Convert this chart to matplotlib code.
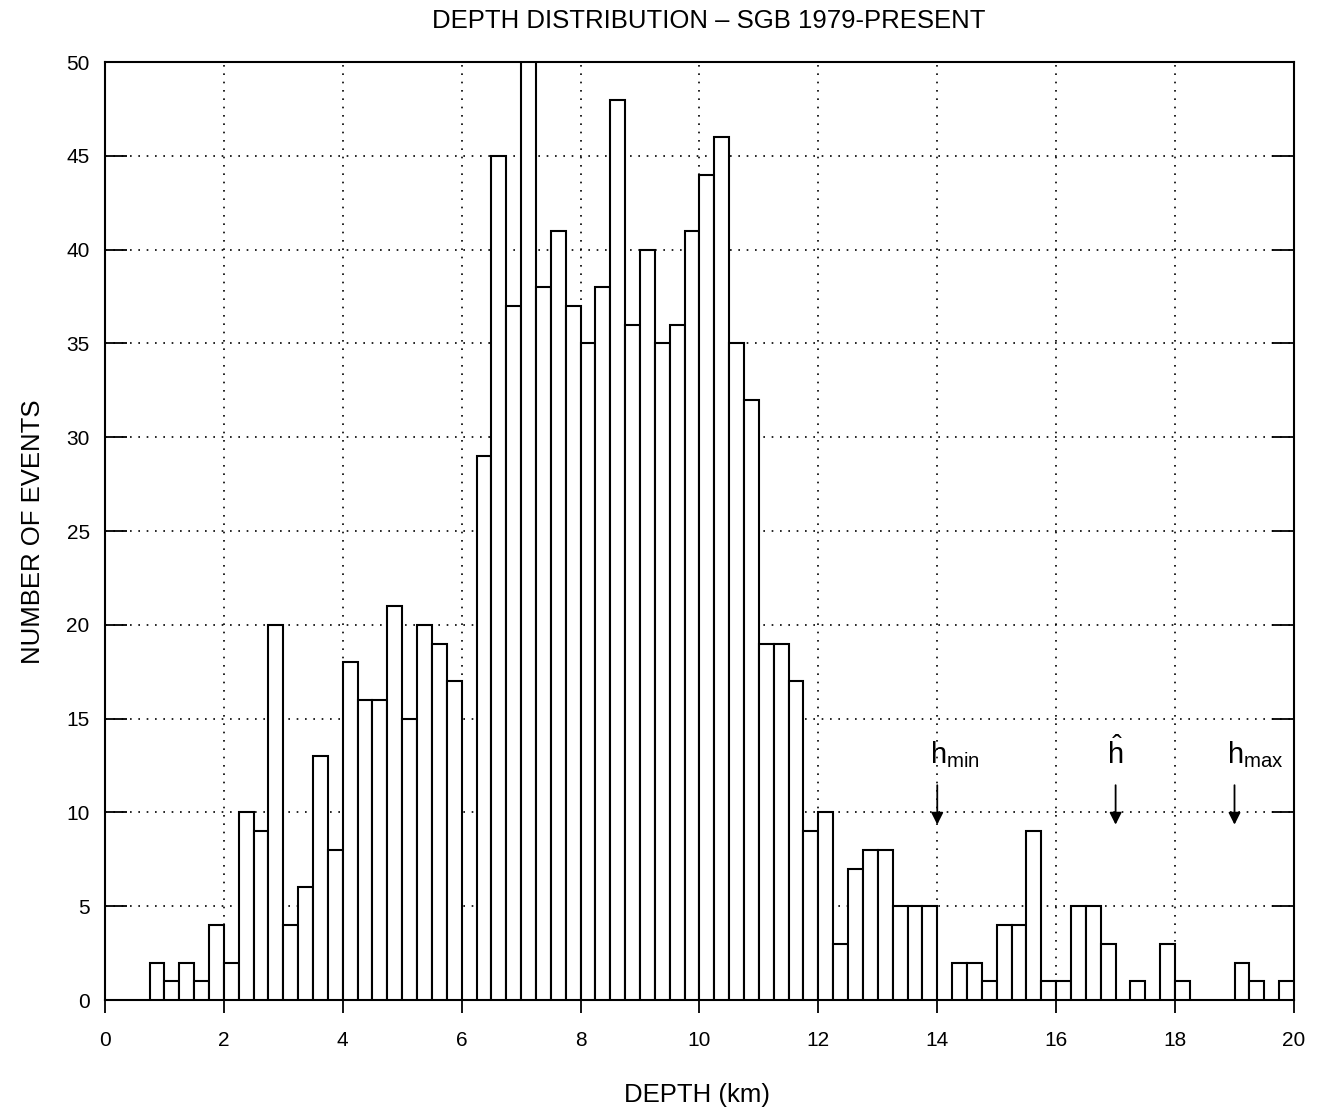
import numpy as np
import matplotlib
matplotlib.use('Agg')
import matplotlib.pyplot as plt

plt.rcParams['font.family'] = ['Liberation Sans', 'DejaVu Sans']

# Depth histogram, 0.25 km bins starting at 0.75 km
bin_start = 0.75
bin_width = 0.25
counts = [2, 1, 2, 1, 4, 2, 10, 9, 20, 4, 6, 13, 8, 18, 16, 16, 21, 15, 20, 19, 17,   # 0.75 - 6.0
          0, 29, 45, 37, 50, 38, 41, 37, 35, 38, 48, 36, 40, 35, 36, 41, 44, 46, 35,  # 6.0 - 10.75
          32, 19, 19, 17, 9, 10, 3, 7, 8, 8, 5, 5, 5,                                  # 10.75 - 14.0
          0, 2, 2, 1, 4, 4, 9, 1, 1, 5, 5, 3, 0, 1, 0, 3, 1,                           # 14.0 - 18.25
          0, 0, 0, 2, 1, 0, 1]                                                          # 18.25 - 20.0

# marker depths (km) and labels
marker_x = [14.0, 17.0, 19.0]
marker_labels = [r'$\mathregular{h_{min}}$', r'$\mathregular{\hat{h}}$', r'$\mathregular{h_{max}}$']
label_dx = [-0.12, 0.0, -0.12]
label_ha = ['left', 'center', 'left']

edges = bin_start + bin_width * np.arange(len(counts))
counts = np.array(counts)
keep = counts > 0

fig = plt.figure(figsize=(13.17, 11.12), dpi=100)
ax = fig.add_axes([0.0797, 0.1007, 0.9028, 0.8435])

ax.bar(edges[keep], counts[keep], width=bin_width, align='edge',
       facecolor='white', edgecolor='black', linewidth=1.5, zorder=3)

ax.set_xlim(0, 20)
ax.set_ylim(0, 50)
ax.set_xticks(np.arange(0, 21, 2))
ax.set_yticks(np.arange(0, 51, 5))
ax.grid(True, color='black', linestyle=(0, (1, 4)), linewidth=1.2)
ax.tick_params(axis='x', direction='out', length=9, width=1.3, labelsize=15, pad=13)
ax.tick_params(axis='y', direction='in', length=16, width=1.3, right=True,
               labelsize=15, pad=11)
for s in ax.spines.values():
    s.set_linewidth(1.5)

for x, lab, dx, ha in zip(marker_x, marker_labels, label_dx, label_ha):
    ax.annotate('', xy=(x, 9.2), xytext=(x, 11.6),
                arrowprops=dict(arrowstyle='-|>', color='black', lw=1.3,
                                mutation_scale=18), zorder=4)
    ax.text(x + dx, 12.6, lab, ha=ha, va='baseline', fontsize=21, zorder=4)

fig.text(0.538, 0.981, 'DEPTH DISTRIBUTION – SGB 1979-PRESENT',
         ha='center', va='center', fontsize=18.5)
fig.text(0.529, 0.0153, 'DEPTH (km)', ha='center', va='center', fontsize=18.5)
fig.text(0.025, 0.5216, 'NUMBER OF EVENTS', ha='center', va='center',
         rotation=90, fontsize=18.5)

fig.savefig('out.png', dpi=100)
